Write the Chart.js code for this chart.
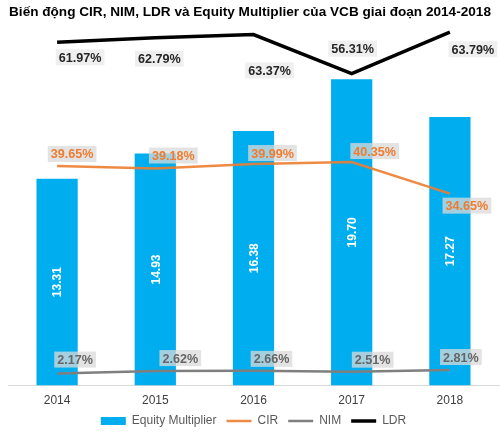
<!DOCTYPE html>
<html>
<head>
<meta charset="utf-8">
<script src="https://cdn.jsdelivr.net/npm/chart.js@4.4.1/dist/chart.umd.min.js"></script>
<style>
  body { margin: 0; background: #fff; }
  #wrap { position: relative; width: 500px; height: 432px; }
  #title {
    position: absolute; top: 4px; left: 0; width: 500px;
    text-align: center; font: bold 13.6px "Liberation Sans", Arial, sans-serif;
    color: #000; z-index: 2; white-space: nowrap;
  }
</style>
</head>
<body>
<div id="wrap">
  <div id="title">Biến động CIR, NIM, LDR và Equity Multiplier của VCB giai đoạn 2014-2018</div>
  <canvas id="chart" width="500" height="432"></canvas>
</div>
<script>
const years = ['2014', '2015', '2016', '2017', '2018'];
const equityMultiplier = [13.31, 14.93, 16.38, 19.70, 17.27];
const cir = [39.65, 39.18, 39.99, 40.35, 34.65];
const nim = [2.17, 2.62, 2.66, 2.51, 2.81];
const ldr = [61.97, 62.79, 63.37, 56.31, 63.79];

// vị trí nhãn giá trị (dx, dy so với điểm)
const labelCfg = {
  0: { type: 'bar', color: '#fff', fmt: v => v.toFixed(2) },
  1: { color: '#ED7D31', bg: 'rgba(217,217,217,0.75)', fmt: v => v.toFixed(2) + '%',
       offsets: [[15, -12], [18, -13], [19, -11], [23, -11], [17, 12]] },
  2: { color: '#666666', bg: 'rgba(217,217,217,0.75)', fmt: v => v.toFixed(2) + '%',
       offsets: [[18, -14], [25, -13], [18, -12], [21, -12], [11, -13]] },
  3: { color: '#262626', bg: 'rgba(235,235,235,0.8)', fmt: v => v.toFixed(2) + '%',
       offsets: [[23, 15], [4, 21], [16, 36], [1, -25], [23, 17]] }
};

const valueLabels = {
  id: 'valueLabels',
  afterDatasetsDraw(chart) {
    const ctx = chart.ctx;
    ctx.save();
    ctx.textAlign = 'center';
    ctx.textBaseline = 'middle';
    chart.data.datasets.forEach((ds, i) => {
      const cfg = labelCfg[i];
      const meta = chart.getDatasetMeta(i);
      meta.data.forEach((el, j) => {
        const txt = cfg.fmt(ds.data[j]);
        if (cfg.type === 'bar') {
          const cy = (el.y + el.base) / 2;
          ctx.save();
          ctx.font = 'bold 12px "Liberation Sans", Arial, sans-serif';
          ctx.translate(el.x, cy);
          ctx.rotate(-Math.PI / 2);
          ctx.fillStyle = cfg.color;
          ctx.fillText(txt, 0, 1);
          ctx.restore();
          return;
        }
        ctx.font = 'bold 12.6px "Liberation Sans", Arial, sans-serif';
        const x = el.x + cfg.offsets[j][0];
        const y = el.y + cfg.offsets[j][1];
        const w = ctx.measureText(txt).width + 6;
        ctx.fillStyle = cfg.bg;
        ctx.fillRect(x - w / 2, y - 8, w, 16);
        ctx.fillStyle = cfg.color;
        ctx.fillText(txt, x, y + 1);
      });
    });
    ctx.restore();
  }
};

new Chart(document.getElementById('chart'), {
  data: {
    labels: years,
    datasets: [
      { type: 'bar', label: 'Equity Multiplier', data: equityMultiplier,
        backgroundColor: '#00AEEF', borderWidth: 0, categoryPercentage: 1, barPercentage: 0.42,
        yAxisID: 'y', order: 1 },
      { type: 'line', label: 'CIR', data: cir, borderColor: 'rgba(237,125,49,0.9)',
        backgroundColor: 'rgba(237,125,49,0.9)', borderWidth: 2.5, pointRadius: 0,
        tension: 0, yAxisID: 'y1', order: 0 },
      { type: 'line', label: 'NIM', data: nim, borderColor: '#7F7F7F',
        backgroundColor: '#7F7F7F', borderWidth: 2.5, pointRadius: 0,
        tension: 0, yAxisID: 'y1', order: 0 },
      { type: 'line', label: 'LDR', data: ldr, borderColor: '#000',
        backgroundColor: '#000', borderWidth: 3.5, pointRadius: 0,
        tension: 0, yAxisID: 'y1', order: 0 }
    ]
  },
  options: {
    responsive: false,
    animation: false,
    layout: { padding: { left: 8, right: 1, top: 0, bottom: -5 } },
    plugins: {
      title: { display: false },
      tooltip: { enabled: false },
      legend: {
        position: 'bottom',
        labels: {
          sort: (a, b) => a.datasetIndex - b.datasetIndex,
          usePointStyle: true,
          pointStyleWidth: 25,
          boxHeight: 8,
          padding: 10,
          color: '#595959',
          font: { family: '"Liberation Sans", Arial, sans-serif', size: 12 },
          generateLabels(chart) {
            const items = Chart.defaults.plugins.legend.labels.generateLabels(chart);
            items.forEach(it => {
              const ds = chart.data.datasets[it.datasetIndex];
              it.pointStyle = ds.type === 'bar' ? 'rect' : 'line';
              if (ds.type === 'bar') it.lineWidth = 0;
            });
            return items;
          }
        }
      }
    },
    scales: {
      x: {
        offset: true,
        grid: { display: false, drawTicks: false },
        border: { display: true, color: '#D9D9D9', width: 1 },
        ticks: { color: '#404040', padding: 8,
                 font: { family: '"Liberation Sans", Arial, sans-serif', size: 12 } },
        afterFit(scale) { scale.height -= 11; }
      },
      y: { display: false, min: 0, max: 24.8 },
      y1: { display: false, min: 0, max: 69.6, position: 'right' }
    }
  },
  plugins: [valueLabels]
});
</script>
</body>
</html>
